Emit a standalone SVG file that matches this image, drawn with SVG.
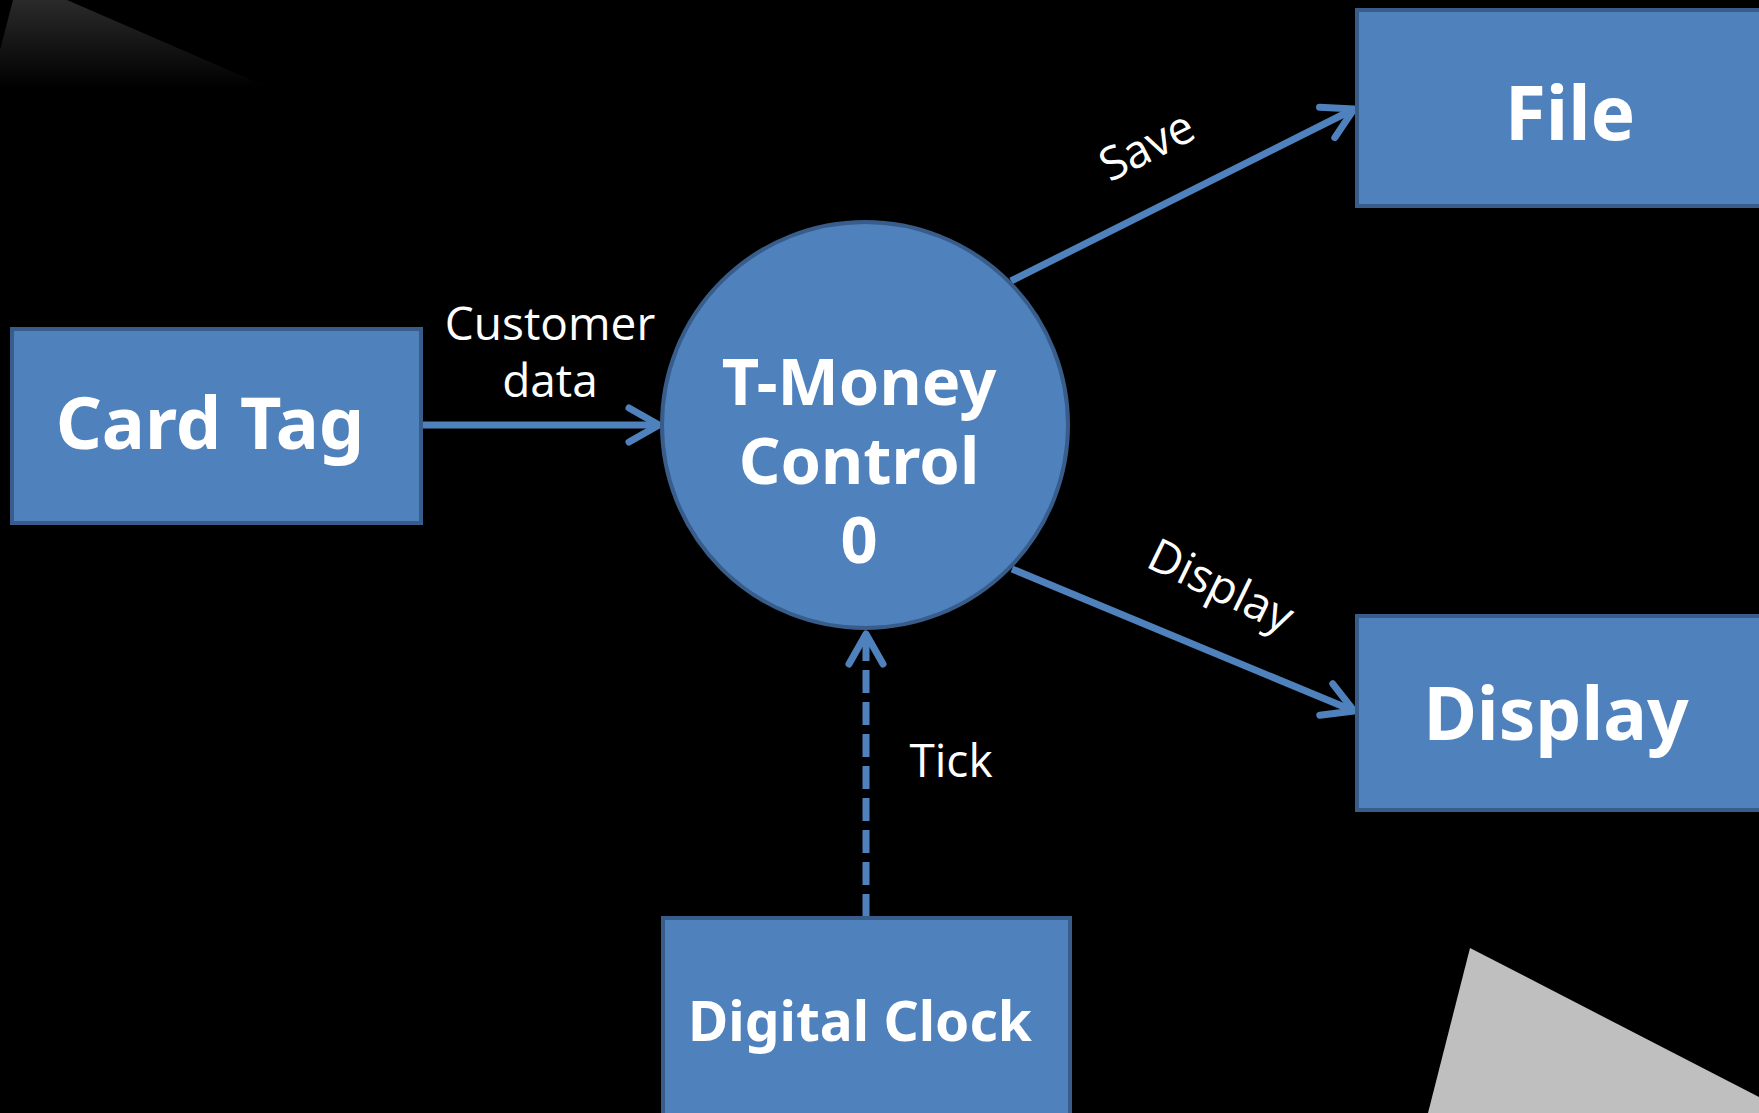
<svg xmlns="http://www.w3.org/2000/svg" width="1759" height="1113" viewBox="0 0 1759 1113">
<defs>
<linearGradient id="shade" x1="0" y1="0" x2="0" y2="1">
<stop offset="0" stop-color="#2a2a2a"/>
<stop offset="1" stop-color="#000000"/>
</linearGradient>
<marker id="arr" markerUnits="userSpaceOnUse" markerWidth="60" markerHeight="60" viewBox="-40 -30 50 60" refX="0" refY="0" orient="auto">
<path d="M-30,-17 L0,0 L-30,17" fill="none" stroke="#4F81BD" stroke-width="7" stroke-linecap="round" stroke-linejoin="round"/>
</marker>
<style>
.box{fill:#4F81BD;stroke:#385D8A;stroke-width:4}
.big{font-family:"Noto Sans","Open Sans","Liberation Sans",sans-serif;font-weight:bold;fill:#fff;text-anchor:middle}
.lbl{font-family:"Open Sans","Noto Sans","Liberation Sans",sans-serif;font-weight:400;fill:#fff;font-size:46px;text-anchor:middle}
.con{fill:none;stroke:#4F81BD;stroke-width:7}
</style>
</defs>
<rect x="0" y="0" width="1759" height="1113" fill="#000"/>
<polygon points="13,0 67,0 270,88 0,88 0,50" fill="url(#shade)"/>
<polygon points="1470,948 1759,1097 1759,1113 1428,1113" fill="#BFBFBF"/>
<g id="connectors">
<line class="con" x1="422" y1="425" x2="659" y2="425" marker-end="url(#arr)"/>
<line class="con" x1="1011" y1="281" x2="1354" y2="109" marker-end="url(#arr)"/>
<line class="con" x1="1012" y1="569" x2="1354" y2="711" marker-end="url(#arr)"/>
<line class="con" x1="866" y1="917" x2="866" y2="634" stroke-dasharray="23 9" marker-end="url(#arr)"/>
<text class="lbl" x="550" y="340">Customer</text>
<text class="lbl" x="550" y="397">data</text>
<text class="lbl" transform="translate(1154,160) rotate(-27)" x="0" y="0">Save</text>
<text class="lbl" transform="translate(1214,600) rotate(26)" x="0" y="0">Display</text>
<text class="lbl" x="951" y="777">Tick</text>
</g>
<g id="card-tag">
<rect class="box" x="12" y="329" width="409" height="194"/>
<text class="big" x="210" y="449" font-size="72">Card Tag</text>
</g>
<g id="t-money-control">
<circle cx="865" cy="425" r="203" fill="#4F81BD" stroke="#385D8A" stroke-width="4"/>
<text class="big" x="859" y="405" font-size="65">T-Money</text>
<text class="big" x="859" y="484" font-size="65">Control</text>
<text class="big" x="859" y="563" font-size="65">0</text>
</g>
<g id="file">
<rect class="box" x="1357" y="10" width="450" height="196"/>
<text class="big" x="1570" y="140" font-size="75">File</text>
</g>
<g id="display">
<rect class="box" x="1357" y="616" width="450" height="194"/>
<text class="big" x="1556" y="740" font-size="73">Display</text>
</g>
<g id="digital-clock">
<rect class="box" x="663" y="918" width="407" height="250"/>
<text class="big" x="860" y="1041" font-size="55">Digital Clock</text>
</g>
</svg>
